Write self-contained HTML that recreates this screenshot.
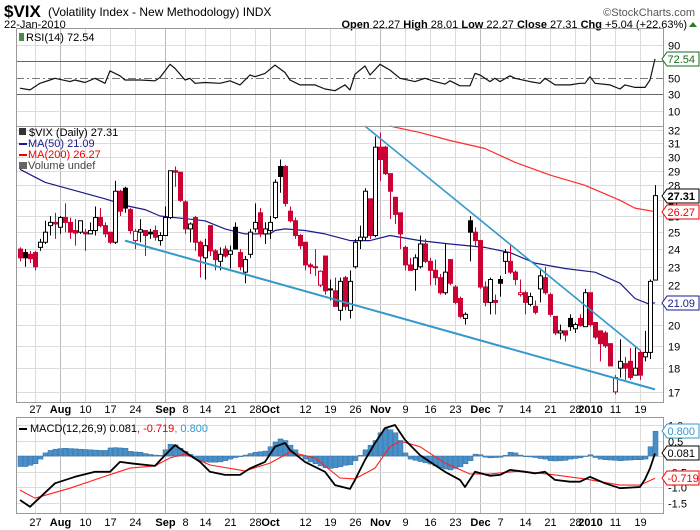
<!DOCTYPE html>
<html><head><meta charset="utf-8"><style>
body{margin:0;background:#fff}
svg{display:block;font-family:"Liberation Sans",sans-serif}
</style></head><body>
<svg id="c" width="700" height="530" xmlns="http://www.w3.org/2000/svg">
<g>
<text x="4" y="17" font-size="17" font-weight="bold">$VIX</text>
<text x="48" y="16" font-size="12">(Volatility Index - New Methodology) INDX</text>
<text x="4" y="28" font-size="11">22-Jan-2010</text>
<text x="695" y="16" font-size="11" fill="#555" text-anchor="end">©StockCharts.com</text>
<text x="687" y="28" font-size="11" text-anchor="end"><tspan font-weight="bold">Open</tspan> 22.27 <tspan font-weight="bold">High</tspan> 28.01 <tspan font-weight="bold">Low</tspan> 22.27 <tspan font-weight="bold">Close</tspan> 27.31 <tspan font-weight="bold">Chg</tspan> +5.04 (+22.63%)</text>
<polygon points="689,27 697,27 693,22" fill="#2a7a2a"/>
</g>
<g id="grid"></g>
<g id="marks"></g>
<g id="frames"></g>
<g id="labels"></g>
</svg>
<script>
// ---- data ----
const startIdx = -3;
const opens  = [24.0,23.8,23.7,23.8,24.1,24.4,25.4,25.6,25.3,25.9,25.6,25.1,25.0,25.0,24.9,25.1,25.9,25.4,25.0,24.4,27.6,27.8,26.4,24.5,25.0,25.1,25.0,25.1,24.5,24.8,25.9,29.0,28.9,26.9,25.2,25.9,24.4,23.5,25.4,23.9,23.3,24.0,23.7,25.3,23.8,22.7,23.7,25.2,26.2,24.9,25.1,25.9,29.3,29.3,26.3,25.7,24.8,24.4,23.1,23.0,22.0,23.6,21.8,21.7,20.7,22.4,20.7,23.0,24.5,24.7,27.1,24.8,30.7,30.7,28.8,27.2,26.2,24.1,23.1,22.85,23.0,24.3,23.3,22.8,22.4,21.6,23.4,21.9,21.3,20.3,25.7,25.0,24.5,21.9,21.1,21.2,22.3,23.3,23.3,22.7,21.5,21.6,21.0,20.9,21.8,22.4,21.5,20.4,19.6,19.7,20.3,19.8,20.3,19.9,21.6,20.1,19.7,19.6,19.1,17.0,18.0,18.2,18.3,17.7,18.7,18.5,18.7,22.27];
const highs  = [24.1,24.0,23.9,23.9,24.6,25.7,26.0,26.2,26.0,26.8,25.9,25.8,25.7,25.2,25.6,26.6,26.5,25.6,25.0,28.3,27.7,27.9,26.5,25.2,25.8,25.1,25.2,25.4,25.0,26.6,29.0,29.3,28.9,27.0,25.6,26.0,24.5,24.6,25.4,24.0,24.1,24.2,24.2,25.6,24.0,23.6,25.2,26.8,26.5,25.6,26.0,28.4,29.8,29.4,26.6,25.9,24.9,24.4,23.2,24.0,22.8,23.6,22.3,22.4,22.4,22.5,22.8,24.6,25.4,27.8,27.1,31.5,31.8,30.8,28.8,27.2,26.2,24.2,23.5,23.7,24.8,24.6,23.5,23.4,22.6,24.3,23.4,22.0,21.4,20.6,26.0,25.3,24.5,22.2,22.4,21.5,22.5,24.0,24.3,22.8,22.3,21.7,21.6,21.2,22.8,23.0,21.6,20.4,20.0,19.7,20.5,20.1,20.5,21.8,21.6,20.1,19.7,19.7,19.1,17.7,19.3,18.5,18.9,19.0,18.8,19.7,22.3,28.01];
const lows   = [23.3,23.0,23.2,22.8,23.9,24.3,24.8,24.6,24.9,25.0,24.6,24.2,24.9,23.9,24.9,24.8,25.3,24.7,24.3,24.3,26.0,26.2,24.9,24.0,24.4,23.6,24.6,24.5,24.2,24.8,25.8,27.9,26.9,24.9,24.4,23.9,22.4,22.3,23.6,22.8,22.8,23.5,22.9,24.0,22.8,22.1,23.5,25.0,24.7,24.3,24.6,25.8,27.5,26.6,25.6,24.6,24.0,22.8,22.6,22.5,21.9,21.5,21.2,20.9,20.2,20.7,20.3,22.9,24.0,24.5,24.6,24.7,28.3,28.7,25.8,25.5,24.0,22.8,22.8,21.7,22.9,23.2,22.0,22.0,21.5,21.5,22.0,21.0,20.3,20.0,23.3,24.2,21.8,20.9,20.5,20.5,21.4,22.6,22.6,22.0,21.4,20.5,20.9,20.5,21.1,21.5,20.4,19.5,19.3,19.2,19.7,19.6,19.9,19.9,19.9,19.3,18.3,18.9,18.1,16.9,17.6,17.5,17.5,17.7,17.5,18.3,18.4,22.27];
const closes = [23.5,23.5,23.45,23.0,24.4,25.0,25.6,25.5,25.9,25.6,25.0,24.95,25.7,24.9,25.1,25.9,25.4,24.9,24.4,27.6,26.3,26.5,25.1,25.05,25.15,24.8,24.9,24.7,24.8,25.9,29.0,28.9,27.0,25.2,25.5,24.4,23.6,24.2,23.9,23.4,23.7,23.6,23.9,24.0,23.0,23.4,25.0,25.6,24.9,25.2,25.6,28.2,28.6,26.8,25.7,24.8,24.2,23.1,23.0,22.95,22.75,21.7,21.75,20.9,22.2,20.9,22.2,24.4,24.7,27.6,24.8,30.7,29.8,28.8,27.6,26.1,24.9,23.1,22.8,23.5,24.3,23.3,22.8,22.4,21.6,22.7,22.1,21.1,20.4,20.5,25.0,24.5,21.9,21.1,22.3,21.1,22.1,23.8,22.7,22.3,21.6,21.1,21.4,20.6,22.5,21.6,20.5,19.6,19.7,19.5,19.9,20.0,19.95,21.6,20.0,19.4,19.1,19.0,18.1,17.6,18.3,18.0,17.6,18.0,17.7,18.7,22.2,27.31];
const ma50Idx = [-3,2,14,19,22,25,31,34,38,42,47,48,50,54,58,63,67,71,77,83,90,95,100,106,112,117,120,123,124];
const ma50Val = [29.1,28.2,27.1,26.6,26.4,26.0,25.8,25.7,25.2,24.9,24.9,25.1,25.2,25.1,24.9,24.5,24.5,24.8,24.5,24.3,24.1,23.8,23.2,22.9,22.7,22.1,21.3,21.0,21.09];
const ma200Idx = [71,77,83,90,96,103,110,117,120,124];
const ma200Val = [32.3,31.8,31.2,30.6,29.6,28.7,28.0,27.0,26.5,26.27];
const lowerTrendIdx = [18,124];
const lowerTrendVal = [24.5,17.1];
const upperTrendIdx = [66,121];
const upperTrendVal = [32.3,18.8];
const rsiIdx = [-3,-1,1,3,4,7,8,10,12,14,15,17,18,21,24,25,27,28,30,31,32,34,37,39,41,43,44,46,48,50,51,53,56,58,60,62,63,64,66,67,69,71,73,76,78,80,82,83,85,87,88,89,91,92,93,95,96,99,101,102,104,107,109,110,111,112,115,117,118,120,122,123,124];
const rsiVal = [37,35,43,47,49,45,47,44,49,43,58,52,47,47,46,50,66,61,47,49,43,44,43,46,41,53,51,55,65,56,47,41,41,36,34,41,35,54,64,53,66,59,49,45,49,45,42,46,40,40,55,53,45,49,45,52,49,45,43,49,41,41,43,43,51,43,41,36,41,38,38,47,72.54];
const macdIdx = [-3,-1,4,8,12,15,17,20,24,26,28,30,33,35,38,41,43,46,48,50,51,54,58,60,63,64,66,68,70,72,74,77,79,82,85,86,88,91,93,95,98,100,102,104,107,109,111,114,117,121,122,123,124];
const macdVal = [-1.42,-1.64,-0.88,-0.67,-0.51,-0.51,-0.19,-0.25,-0.32,0.03,0.35,0.13,-0.19,-0.51,-0.61,-0.61,-0.40,-0.19,0.30,0.42,0.19,-0.19,-0.51,-0.94,-1.06,-0.77,-0.13,0.42,0.90,1.0,0.52,0.03,-0.19,-0.51,-0.77,-1.0,-0.51,-0.64,-0.61,-0.45,-0.51,-0.56,-0.51,-0.77,-0.83,-0.83,-0.67,-0.88,-1.04,-1.0,-0.75,-0.40,0.081];
const signalIdx = [-3,0,7,13,19,24,27,30,35,42,47,51,56,61,64,68,71,73,77,82,87,91,97,104,110,117,121,124];
const signalVal = [-1.10,-1.36,-1.04,-0.71,-0.39,-0.32,-0.06,0.06,-0.29,-0.48,-0.23,0.13,-0.06,-0.71,-0.74,-0.39,0.30,0.48,0.30,-0.23,-0.58,-0.58,-0.48,-0.61,-0.74,-0.94,-0.94,-0.719];
const histVal = [-0.34,-0.34,-0.3,-0.25,-0.1,0.1,0.18,0.22,0.24,0.25,0.24,0.23,0.22,0.21,0.2,0.19,0.18,0.18,0.26,0.27,0.26,0.25,0.15,0.13,0.12,0.08,0.05,0.03,0.02,0.2,0.38,0.36,0.25,0.15,0.05,-0.08,-0.15,-0.19,-0.2,-0.2,-0.19,-0.15,-0.1,-0.05,-0.02,0.03,0.08,0.12,0.14,0.16,0.3,0.45,0.55,0.5,0.35,0.2,0.03,-0.1,-0.19,-0.25,-0.32,-0.38,-0.4,-0.38,-0.35,-0.3,-0.28,-0.15,0.02,0.2,0.35,0.5,0.75,0.88,0.85,0.75,0.5,0.1,-0.1,-0.14,-0.18,-0.22,-0.26,-0.32,-0.38,-0.42,-0.45,-0.4,-0.35,-0.25,-0.15,0.06,0.04,-0.04,-0.06,-0.05,-0.04,0.02,0.12,0.1,0.03,-0.02,-0.03,-0.05,-0.08,-0.1,-0.15,-0.16,-0.15,-0.14,-0.1,-0.08,-0.06,0.0,0.04,-0.05,-0.1,-0.12,-0.13,-0.14,-0.15,-0.14,-0.13,-0.12,-0.12,-0.1,0.3,0.8];
const tickIdx = [0,5,10,15,20,26,30,34,39,44,47,54,59,64,69,74,79,84,89,93,98,103,108,111,116,121];
const tickLabels = ["27","Aug","10","17","24","Sep","8","14","21","28","Oct","12","19","26","Nov","9","16","23","Dec","7","14","21","28","2010","11","19"];
const priceTicks = [17,18,19,20,21,22,23,24,25,26,27,28,29,30,31,32];
const rsiTicks = [90,50,30,10];
const macdTicks = [1.0,0.5,-0.5,-1.0,-1.5];
const macdTickLabels = ["1.0","0.5","-0.5","-1.0","-1.5"];

// ---- layout ----
const NS="http://www.w3.org/2000/svg";
const L=16,R=663;
const rsiTop=28,rsiBot=126,mainTop=126,mainBot=402,macdTop=417,macdBot=513;
const xAt=i=>35+5*i;
const yPrice=p=>130+(Math.log(32)-Math.log(p))*414;
const yRsi=v=>94-(v-30)*0.825;
const yMacd=v=>456-v*31;
function mk(tag,attrs,parent){const e=document.createElementNS(NS,tag);for(const k in attrs)e.setAttribute(k,attrs[k]);parent.appendChild(e);return e;}
const G=document.getElementById('grid'),M=document.getElementById('marks'),F=document.getElementById('frames'),T=document.getElementById('labels');

const monthSet=new Set(["Aug","Sep","Oct","Nov","Dec","2010"]);
tickIdx.forEach((ti,k)=>{
  const x=xAt(ti)+0.5, major=monthSet.has(tickLabels[k]);
  [[rsiTop,rsiBot],[mainTop,mainBot],[macdTop,macdBot]].forEach(([a,b])=>{
    const ln=mk('line',{x1:x,x2:x,y1:a,y2:b,stroke:major?'#bbb':'#dcdcdc','stroke-width':1},G);
    
    
  });
  [409,522].forEach(yy=>{
    const t=mk('text',{x:x,y:yy+4,'font-size':11,'text-anchor':'middle','font-weight':major?'bold':'normal'},T);
    t.textContent=tickLabels[k];
    
    
  });
});
priceTicks.forEach(p=>{
  const y=Math.round(yPrice(p))+0.5;
  const ln=mk('line',{x1:L,x2:R,y1:y,y2:y,stroke:'#dcdcdc'},G);
  
  
  const t=mk('text',{x:668,y:y+4,'font-size':11},T);t.textContent=p;
  
  
});
rsiTicks.forEach(v=>{
  const y=Math.round(yRsi(v))+0.5;
  const ln=mk('line',{x1:L,x2:R,y1:y,y2:y,stroke:v==30?'#666':(v==50?'#777':'#dcdcdc'),'stroke-dasharray':v==50?'8,3,2,3':'none'},G);
  
  
  const t=mk('text',{x:668,y:y+4,'font-size':11},T);t.textContent=v;
  
  
});
{const y=Math.round(yRsi(70))+0.5;const ln=mk('line',{x1:L,x2:R,y1:y,y2:y,stroke:'#666'},G);

}
macdTicks.concat([0]).forEach((v,k)=>{
  const y=Math.round(yMacd(v))+0.5;
  const ln=mk('line',{x1:L,x2:R,y1:y,y2:y,stroke:'#dcdcdc'},G);
  
  
  if(k<macdTicks.length){const t=mk('text',{x:668,y:y+4,'font-size':11},T);t.textContent=macdTickLabels[k];
  
  }
});

function poly(idx,val,yf,color,w,name){
  const pts=idx.map((i,k)=>xAt(i)+','+yf(val[k]).toFixed(1)).join(' ');
  const p=mk('polyline',{points:pts,fill:'none',stroke:color,'stroke-width':w,'stroke-linejoin':'round'},M);
  
  
}
poly(rsiIdx,rsiVal,yRsi,'#111',1.2,'rsi-line');
poly(ma50Idx,ma50Val,yPrice,'#1a1a8c',1.2,'ma50-line');
poly(ma200Idx,ma200Val,yPrice,'#ff2a2a',1.2,'ma200-line');
closes.forEach((c,k)=>{
  const i=startIdx+k,o=opens[k],h=highs[k],l=lows[k];
  const prev=k>0?closes[k-1]:o;
  const col=c>=prev?'#000':'#cc0033';
  const x=xAt(i);
  const g=mk('g',{},M);
  
  
  mk('line',{x1:x+0.5,x2:x+0.5,y1:yPrice(h),y2:yPrice(l),stroke:col,'stroke-width':1},g);
  const yt=yPrice(Math.max(o,c)),yb=yPrice(Math.min(o,c));
  const filled=c<o;
  mk('rect',{x:x-1.5,y:yt,width:4,height:Math.max(1,yb-yt),fill:filled?col:'#fff',stroke:col,'stroke-width':1},g);
});
poly(lowerTrendIdx,lowerTrendVal,yPrice,'#3399cc',2,'lower-trendline');
poly(upperTrendIdx,upperTrendVal,yPrice,'#3399cc',1.6,'upper-trendline');
histVal.forEach((v,k)=>{
  const i=startIdx+k,x=xAt(i);
  const y0=yMacd(0),y1=yMacd(v);
  const r=mk('rect',{x:x-2,y:Math.min(y0,y1),width:5,height:Math.max(0.5,Math.abs(y1-y0)),fill:'#4a90c8',stroke:'#2f6fa5','stroke-width':0.5},M);
  
  
});
poly(signalIdx,signalVal,yMacd,'#ff2020',1.1,'macd-signal-line');
poly(macdIdx,macdVal,yMacd,'#000',1.8,'macd-line');

[[rsiTop,rsiBot],[mainTop,mainBot],[macdTop,macdBot]].forEach(([a,b],k)=>{
  const r=mk('rect',{x:L+0.5,y:a+0.5,width:R-L,height:b-a,fill:'none',stroke:'#999'},F);
  
  
});
function tag(y,txt,color,bold,name){
  const g=mk('g',{},T);
  
  
  mk('polygon',{points:`662,${y} 667,${y-7} 699,${y-7} 699,${y+7} 667,${y+7}`,fill:'#fff',stroke:color},g);
  const t=mk('text',{x:667.5,y:y+4,'font-size':11,fill:bold?'#000':color,'font-weight':bold?'bold':'normal'},g);
  t.textContent=txt;
}
tag(Math.round(yRsi(72.54)),'72.54','#1a6a1a',false,'rsi-value-tag');
tag(Math.round(yPrice(27.31)),'27.31','#000',true,'close-value-tag');
tag(Math.round(yPrice(26.27)),'26.27','#e00',false,'ma200-value-tag');
tag(Math.round(yPrice(21.09)),'21.09','#1a1a8c',false,'ma50-value-tag');
tag(Math.round(yMacd(0.8)),'0.800','#3399cc',false,'histogram-value-tag');
tag(Math.round(yMacd(0.081)),'0.081','#000',false,'macd-value-tag');
tag(Math.round(yMacd(-0.719)),'-0.719','#e00',false,'signal-value-tag');

function legend(x,y,parts,name){
  const t=mk('text',{x:x,y:y,'font-size':11},T);
  
  
  parts.forEach(([s,c])=>{const sp=mk('tspan',{fill:c},t);sp.textContent=s;});
}
mk('rect',{x:19,y:33,width:5,height:8,fill:'#4a8a4a'},T);
legend(26,41,[['RSI(14) 72.54','#000']],'rsi-legend');
mk('rect',{x:19,y:128,width:7,height:7,fill:'#333'},T);
legend(29,136,[['$VIX (Daily) 27.31','#000']],'price-legend');
mk('rect',{x:19,y:143,width:8,height:2,fill:'#1a1a8c'},T);
legend(28,147,[['MA(50) 21.09','#1a1a8c']],'ma50-legend');
mk('rect',{x:19,y:154,width:8,height:2,fill:'#e00'},T);
legend(28,158,[['MA(200) 26.27','#e00']],'ma200-legend');
mk('rect',{x:19,y:162,width:8,height:7,fill:'#666'},T);
legend(28,169,[['Volume undef','#444']],'volume-legend');
mk('rect',{x:19,y:428,width:8,height:2,fill:'#000'},T);
legend(30,432,[['MACD(12,26,9) 0.081','#000'],[', -0.719','#e00'],[', 0.800','#3399cc']],'macd-legend');
</script>
</body></html>
